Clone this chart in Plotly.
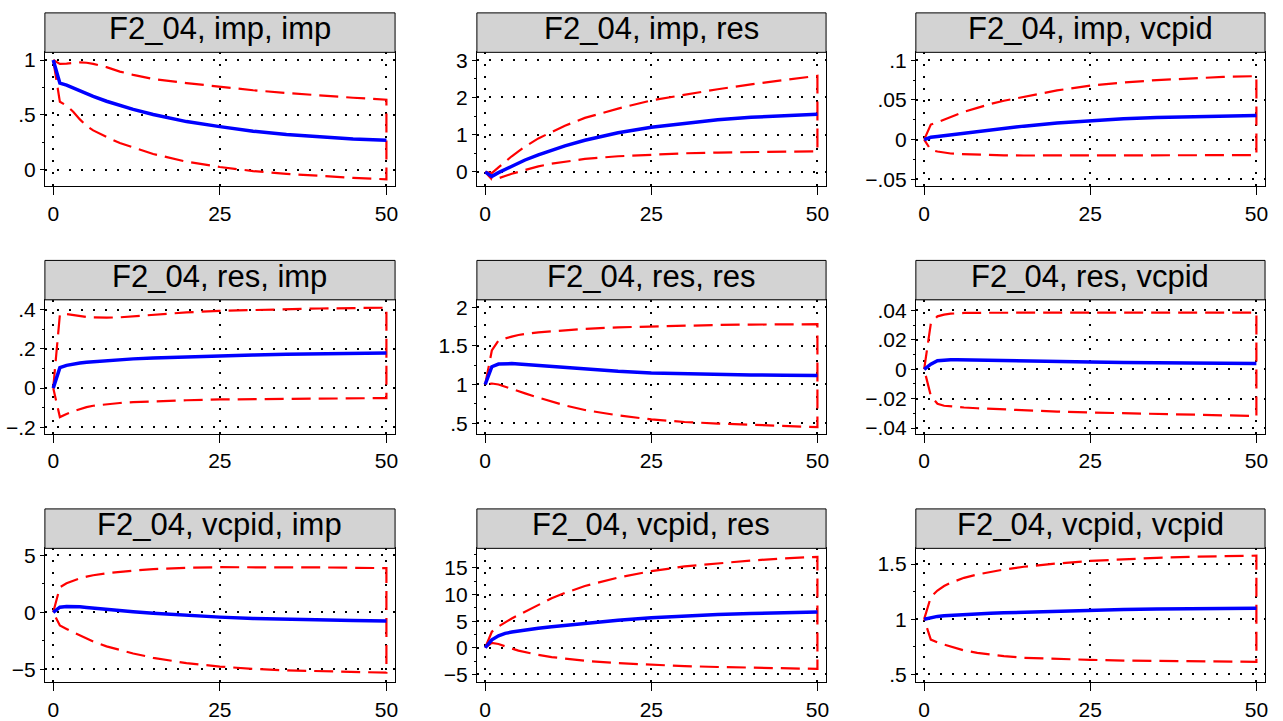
import plotly.graph_objects as go

# ---------------- data ----------------
steps = [0, 1, 2, 3, 4, 5, 6, 8, 10, 12, 15, 20, 25, 30, 35, 40, 45, 50]

titles = ["F2_04, imp, imp", "F2_04, imp, res", "F2_04, imp, vcpid",
          "F2_04, res, imp", "F2_04, res, res", "F2_04, res, vcpid",
          "F2_04, vcpid, imp", "F2_04, vcpid, res", "F2_04, vcpid, vcpid"]

imp_imp_irf = [1.0, 0.79, 0.771, 0.744, 0.718, 0.693, 0.669, 0.625, 0.586, 0.551, 0.504, 0.44, 0.394, 0.352, 0.322, 0.299, 0.281, 0.27]
imp_imp_hi = [1.0, 0.965, 0.968, 0.975, 0.978, 0.975, 0.965, 0.935, 0.895, 0.865, 0.827, 0.79, 0.758, 0.725, 0.70, 0.677, 0.657, 0.639]
imp_imp_lo = [1.0, 0.62, 0.585, 0.53, 0.46, 0.40, 0.36, 0.30, 0.245, 0.205, 0.145, 0.075, 0.027, -0.01, -0.035, -0.055, -0.072, -0.085]

imp_res_irf = [0.0, -0.12, -0.02, 0.07, 0.16, 0.24, 0.32, 0.46, 0.59, 0.70, 0.85, 1.05, 1.20, 1.31, 1.40, 1.465, 1.51, 1.55]
imp_res_hi = [0.0, -0.03, 0.12, 0.28, 0.42, 0.55, 0.68, 0.90, 1.08, 1.24, 1.45, 1.70, 1.92, 2.08, 2.22, 2.35, 2.47, 2.58]
imp_res_lo = [0.0, -0.20, -0.17, -0.11, -0.05, 0.01, 0.06, 0.15, 0.22, 0.28, 0.35, 0.42, 0.465, 0.50, 0.52, 0.535, 0.547, 0.555]

imp_vcpid_irf = [0.0, 0.003, 0.004, 0.005, 0.006, 0.0075, 0.009, 0.011, 0.013, 0.0148, 0.017, 0.021, 0.024, 0.0262, 0.0278, 0.029, 0.0298, 0.0303]
imp_vcpid_hi = [0.0, 0.019, 0.022, 0.025, 0.029, 0.032, 0.035, 0.040, 0.045, 0.049, 0.054, 0.062, 0.068, 0.072, 0.075, 0.077, 0.079, 0.080]
imp_vcpid_lo = [0.0, -0.013, -0.015, -0.0165, -0.0175, -0.018, -0.0185, -0.019, -0.0195, -0.0198, -0.020, -0.020, -0.020, -0.020, -0.020, -0.0198, -0.0196, -0.0195]

res_imp_irf = [0.0, 0.104, 0.116, 0.123, 0.128, 0.132, 0.135, 0.140, 0.145, 0.149, 0.154, 0.160, 0.165, 0.169, 0.172, 0.175, 0.177, 0.179]
res_imp_hi = [0.0, 0.375, 0.378, 0.372, 0.367, 0.363, 0.361, 0.359, 0.361, 0.366, 0.374, 0.386, 0.394, 0.399, 0.403, 0.406, 0.408, 0.41]
res_imp_lo = [0.0, -0.148, -0.132, -0.118, -0.106, -0.097, -0.090, -0.082, -0.076, -0.072, -0.067, -0.062, -0.058, -0.056, -0.054, -0.053, -0.052, -0.051]

res_res_irf = [1.0, 1.23, 1.265, 1.272, 1.27, 1.265, 1.258, 1.245, 1.232, 1.22, 1.205, 1.17, 1.15, 1.138, 1.13, 1.124, 1.119, 1.115]
res_res_hi = [1.0, 1.44, 1.57, 1.60, 1.62, 1.64, 1.655, 1.675, 1.69, 1.705, 1.72, 1.74, 1.753, 1.763, 1.77, 1.775, 1.778, 1.78]
res_res_lo = [1.0, 1.013, 1.0, 0.975, 0.945, 0.915, 0.885, 0.83, 0.775, 0.73, 0.67, 0.60, 0.548, 0.515, 0.495, 0.478, 0.462, 0.448]

res_vcpid_irf = [0.0, 0.0035, 0.0058, 0.0064, 0.0065, 0.0065, 0.0064, 0.0062, 0.0060, 0.0058, 0.0055, 0.0052, 0.0049, 0.0046, 0.0044, 0.0042, 0.0041, 0.004]
res_vcpid_hi = [0.0, 0.031, 0.036, 0.0372, 0.0378, 0.0381, 0.0383, 0.0384, 0.0385, 0.0385, 0.0385, 0.0385, 0.0385, 0.0385, 0.0385, 0.0385, 0.0385, 0.0385]
res_vcpid_lo = [0.0, -0.018, -0.0235, -0.0248, -0.0252, -0.0256, -0.026, -0.0265, -0.027, -0.0274, -0.028, -0.0288, -0.0294, -0.0300, -0.0305, -0.0310, -0.0314, -0.0318]

vcpid_imp_irf = [0.0, 0.45, 0.52, 0.52, 0.48, 0.43, 0.37, 0.26, 0.15, 0.05, -0.08, -0.27, -0.42, -0.53, -0.61, -0.67, -0.72, -0.76]
vcpid_imp_hi = [0.0, 2.2, 2.55, 2.8, 2.98, 3.12, 3.25, 3.42, 3.55, 3.65, 3.78, 3.9, 3.95, 3.96, 3.95, 3.93, 3.9, 3.87]
vcpid_imp_lo = [0.0, -1.15, -1.45, -1.75, -2.05, -2.3, -2.55, -2.98, -3.3, -3.6, -3.98, -4.45, -4.75, -4.95, -5.08, -5.17, -5.23, -5.28]

vcpid_res_irf = [0.0, 1.5, 2.25, 2.7, 2.95, 3.15, 3.35, 3.65, 3.95, 4.2, 4.6, 5.15, 5.65, 6.0, 6.25, 6.45, 6.6, 6.73]
vcpid_res_hi = [0.0, 3.0, 4.0, 4.8, 5.5, 6.15, 6.8, 8.0, 9.3, 10.3, 11.6, 13.2, 14.4, 15.3, 15.9, 16.4, 16.8, 17.1]
vcpid_res_lo = [0.0, 0.9, 0.7, 0.3, -0.15, -0.55, -0.85, -1.35, -1.75, -2.05, -2.45, -2.9, -3.2, -3.45, -3.62, -3.77, -3.88, -3.97]

vcpid_vcpid_irf = [1.0, 1.015, 1.025, 1.032, 1.036, 1.039, 1.042, 1.048, 1.053, 1.058, 1.064, 1.075, 1.083, 1.088, 1.092, 1.095, 1.097, 1.098]
vcpid_vcpid_hi = [1.0, 1.2, 1.26, 1.3, 1.33, 1.355, 1.375, 1.405, 1.43, 1.45, 1.475, 1.505, 1.528, 1.545, 1.556, 1.565, 1.571, 1.576]
vcpid_vcpid_lo = [1.0, 0.815, 0.79, 0.77, 0.75, 0.732, 0.716, 0.695, 0.678, 0.665, 0.65, 0.638, 0.631, 0.625, 0.621, 0.618, 0.615, 0.613]

x_ticks = [0, 25, 50]
y_ticks = [
    [0, 0.5, 1], [0, 1, 2, 3], [-0.05, 0, 0.05, 0.1],
    [-0.2, 0, 0.2, 0.4], [0.5, 1, 1.5, 2], [-0.04, -0.02, 0, 0.02, 0.04],
    [-5, 0, 5], [-5, 0, 5, 10, 15], [0.5, 1, 1.5],
]
y_ticktext = [
    ["0", ".5", "1"], ["0", "1", "2", "3"], ["\u2212.05", "0", ".05", ".1"],
    ["\u2212.2", "0", ".2", ".4"], [".5", "1", "1.5", "2"], ["\u2212.04", "\u2212.02", "0", ".02", ".04"],
    ["\u22125", "0", "5"], ["\u22125", "0", "5", "10", "15"], [".5", "1", "1.5"],
]

irfs = [imp_imp_irf, imp_res_irf, imp_vcpid_irf, res_imp_irf, res_res_irf, res_vcpid_irf,
        vcpid_imp_irf, vcpid_res_irf, vcpid_vcpid_irf]
his = [imp_imp_hi, imp_res_hi, imp_vcpid_hi, res_imp_hi, res_res_hi, res_vcpid_hi,
       vcpid_imp_hi, vcpid_res_hi, vcpid_vcpid_hi]
los = [imp_imp_lo, imp_res_lo, imp_vcpid_lo, res_imp_lo, res_res_lo, res_vcpid_lo,
       vcpid_imp_lo, vcpid_res_lo, vcpid_vcpid_lo]

# ---------------- layout settings ----------------
W, H = 1283, 721
cols_px = [(45, 396), (478, 828), (918, 1268)]
rows_px = [(48, 184), (299, 435), (551, 687)]
title_h = 40
y_ranges = [
    [-0.15, 1.07], [-0.39, 3.21], [-0.059, 0.11],
    [-0.234, 0.45], [0.36, 2.095], [-0.044, 0.0472],
    [-6.14, 5.6], [-6.53, 18.69], [0.426, 1.642],
]
minor_step = [0.25, 0.5, 0.025, 0.1, 0.25, 0.01, 2.5, 2.5, 0.25]

FONT = "Liberation Sans, Arial, Helvetica, sans-serif"
GRID_DASH = "2px,10px"

fig = go.Figure()
shapes = []
annotations = []

for i in range(9):
    r, c = divmod(i, 3)
    k = "" if i == 0 else str(i + 1)
    x0, x1 = cols_px[c]
    y0, y1 = rows_px[r]

    fig.add_trace(go.Scatter(
        x=steps + steps[::-1], y=his[i] + los[i][::-1],
        mode="lines", line=dict(color="#ff0000", width=2.2, dash="19px,8px"),
        xaxis="x" + k, yaxis="y" + k, showlegend=False, hoverinfo="skip"))
    fig.add_trace(go.Scatter(
        x=steps, y=irfs[i], mode="lines",
        line=dict(color="#0000ff", width=3.5),
        xaxis="x" + k, yaxis="y" + k, showlegend=False, hoverinfo="skip"))

    fig.layout["xaxis" + k] = dict(
        domain=[x0 / W, x1 / W], anchor="y" + k, range=[-1.25, 51.3],
        tickmode="array", tickvals=x_ticks, ticktext=[str(v) for v in x_ticks],
        ticks="outside", ticklen=8, tickwidth=1, tickcolor="black",
        showline=True, mirror=True, linecolor="black", linewidth=1,
        showgrid=True, gridcolor="black", gridwidth=2, griddash=GRID_DASH,
        zeroline=False, tickfont=dict(family=FONT, size=21, color="black"),
        fixedrange=True)
    fig.layout["yaxis" + k] = dict(
        domain=[1 - y1 / H, 1 - y0 / H], anchor="x" + k, range=y_ranges[i],
        tickmode="array", tickvals=y_ticks[i], ticktext=y_ticktext[i],
        ticks="outside", ticklen=4, tickwidth=1, tickcolor="black",
        minor=dict(dtick=minor_step[i], tick0=0, ticks="outside", ticklen=2,
                   tickcolor="black", showgrid=False),
        showline=True, mirror=True, linecolor="black", linewidth=1,
        showgrid=True, gridcolor="black", gridwidth=2, griddash=GRID_DASH,
        zeroline=False, tickfont=dict(family=FONT, size=21, color="black"),
        fixedrange=True)

    ty0, ty1 = y0 - title_h, y0
    shapes.append(dict(type="rect", xref="paper", yref="paper",
                       x0=x0 / W, x1=x1 / W, y0=1 - ty1 / H, y1=1 - ty0 / H,
                       fillcolor="#d3d3d3", line=dict(color="black", width=1),
                       layer="above"))
    annotations.append(dict(text=titles[i], xref="paper", yref="paper",
                            x=(x0 + x1) / 2 / W, y=1 - (ty0 + 16) / H,
                            xanchor="center", yanchor="middle", showarrow=False,
                            font=dict(family=FONT, size=31, color="black")))

fig.update_layout(
    width=W, height=H, margin=dict(l=0, r=0, t=0, b=0),
    paper_bgcolor="white", plot_bgcolor="white",
    shapes=shapes, annotations=annotations, hovermode=False,
)

fig.write_html("out.html", config={"displayModeBar": False},
               post_script="document.body.style.margin='0';document.body.style.overflow='hidden';")
